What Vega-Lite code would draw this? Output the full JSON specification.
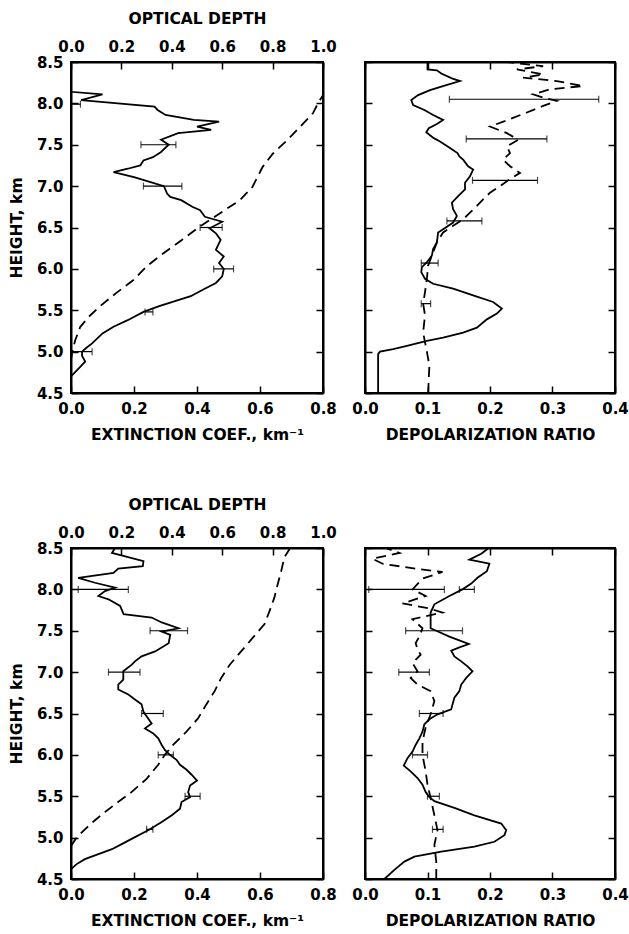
{
  "$schema": "https://vega.github.io/schema/vega-lite/v6.json",
  "padding": {"left": 8, "top": 10, "right": 4, "bottom": 4},
  "background": "white",
  "bounds": "flush",
  "spacing": 486,
  "config": {
    "view": {"stroke": "black", "strokeWidth": 2},
    "axis": {
      "domainColor": "black", "domainWidth": 2,
      "tickColor": "black", "tickWidth": 1.5, "tickSize": -7,
      "labelPadding": 15, "labelFont": "DejaVu Sans", "labelFontWeight": "bold", "labelFontSize": 15, "labelColor": "black",
      "titleFont": "DejaVu Sans", "titleFontWeight": "bold", "titleFontSize": 15.5, "titleColor": "black",
      "grid": false, "labelFlush": false, "labelOverlap": false
    },
    "line": {"color": "black", "strokeWidth": 1.8},
    "rule": {"color": "black", "strokeWidth": 1.2},
    "tick": {"color": "black", "thickness": 1.2}
  },
  "datasets": {
    "tl_ext": [
      {"h":4.50,"v":0.0},{"h":4.70,"v":0.0},{"h":4.82,"v":0.03},{"h":4.88,"v":0.045},{"h":4.95,"v":0.035},{"h":5.00,"v":0.035},{"h":5.05,"v":0.05},{"h":5.10,"v":0.067},{"h":5.22,"v":0.10},{"h":5.30,"v":0.135},{"h":5.38,"v":0.18},{"h":5.48,"v":0.23},{"h":5.55,"v":0.28},{"h":5.61,"v":0.33},{"h":5.67,"v":0.38},{"h":5.75,"v":0.42},{"h":5.83,"v":0.46},{"h":5.91,"v":0.48},{"h":6.00,"v":0.485},{"h":6.07,"v":0.47},{"h":6.15,"v":0.485},{"h":6.23,"v":0.46},{"h":6.35,"v":0.475},{"h":6.43,"v":0.46},{"h":6.49,"v":0.44},{"h":6.57,"v":0.48},{"h":6.63,"v":0.425},{"h":6.71,"v":0.41},{"h":6.75,"v":0.385},{"h":6.83,"v":0.35},{"h":6.87,"v":0.315},{"h":6.91,"v":0.305},{"h":7.00,"v":0.295},{"h":7.05,"v":0.25},{"h":7.11,"v":0.20},{"h":7.17,"v":0.135},{"h":7.21,"v":0.18},{"h":7.25,"v":0.22},{"h":7.31,"v":0.23},{"h":7.35,"v":0.26},{"h":7.41,"v":0.285},{"h":7.50,"v":0.31},{"h":7.56,"v":0.286},{"h":7.64,"v":0.34},{"h":7.68,"v":0.445},{"h":7.72,"v":0.40},{"h":7.78,"v":0.47},{"h":7.80,"v":0.39},{"h":7.86,"v":0.30},{"h":7.92,"v":0.275},{"h":7.96,"v":0.265},{"h":8.04,"v":0.032},{"h":8.11,"v":0.10},{"h":8.14,"v":0.0},{"h":8.50,"v":0.0}
    ],
    "tl_od": [
      {"h":4.90,"od":0.0},{"h":5.00,"od":0.005},{"h":5.14,"od":0.017},{"h":5.30,"od":0.037},{"h":5.42,"od":0.07},{"h":5.55,"od":0.116},{"h":5.71,"od":0.18},{"h":5.87,"od":0.25},{"h":6.03,"od":0.30},{"h":6.19,"od":0.367},{"h":6.35,"od":0.44},{"h":6.51,"od":0.51},{"h":6.67,"od":0.59},{"h":6.83,"od":0.67},{"h":6.99,"od":0.72},{"h":7.23,"od":0.76},{"h":7.39,"od":0.80},{"h":7.55,"od":0.856},{"h":7.72,"od":0.91},{"h":7.88,"od":0.96},{"h":8.00,"od":0.98},{"h":8.10,"od":1.0}
    ],
    "tl_err": [
      {"h":5.0,"lo":0.0,"hi":0.067},{"h":5.48,"lo":0.235,"hi":0.26},{"h":6.0,"lo":0.453,"hi":0.516},{"h":6.5,"lo":0.41,"hi":0.48},{"h":7.0,"lo":0.23,"hi":0.352},{"h":7.5,"lo":0.222,"hi":0.333},{"h":7.99,"lo":0.0,"hi":0.03}
    ],
    "tr_s": [
      {"h":4.50,"v":0.021},{"h":4.97,"v":0.021},{"h":5.00,"v":0.024},{"h":5.03,"v":0.045},{"h":5.07,"v":0.067},{"h":5.13,"v":0.099},{"h":5.17,"v":0.125},{"h":5.23,"v":0.157},{"h":5.29,"v":0.179},{"h":5.39,"v":0.195},{"h":5.46,"v":0.211},{"h":5.52,"v":0.219},{"h":5.60,"v":0.205},{"h":5.68,"v":0.173},{"h":5.76,"v":0.141},{"h":5.82,"v":0.109},{"h":5.88,"v":0.096},{"h":5.96,"v":0.090},{"h":6.02,"v":0.091},{"h":6.08,"v":0.099},{"h":6.16,"v":0.107},{"h":6.24,"v":0.109},{"h":6.32,"v":0.115},{"h":6.44,"v":0.117},{"h":6.48,"v":0.125},{"h":6.56,"v":0.141},{"h":6.64,"v":0.147},{"h":6.72,"v":0.141},{"h":6.80,"v":0.139},{"h":6.88,"v":0.149},{"h":6.96,"v":0.16},{"h":7.04,"v":0.16},{"h":7.12,"v":0.168},{"h":7.20,"v":0.173},{"h":7.24,"v":0.165},{"h":7.32,"v":0.157},{"h":7.36,"v":0.151},{"h":7.40,"v":0.148},{"h":7.46,"v":0.136},{"h":7.54,"v":0.12},{"h":7.58,"v":0.11},{"h":7.65,"v":0.098},{"h":7.70,"v":0.102},{"h":7.75,"v":0.115},{"h":7.80,"v":0.125},{"h":7.86,"v":0.109},{"h":7.92,"v":0.095},{"h":7.98,"v":0.077},{"h":8.04,"v":0.074},{"h":8.10,"v":0.085},{"h":8.16,"v":0.104},{"h":8.22,"v":0.13},{"h":8.27,"v":0.152},{"h":8.30,"v":0.14},{"h":8.36,"v":0.122},{"h":8.40,"v":0.115},{"h":8.41,"v":0.100},{"h":8.50,"v":0.100}
    ],
    "tr_d": [
      {"h":4.50,"v":0.101},{"h":4.83,"v":0.103},{"h":5.00,"v":0.099},{"h":5.23,"v":0.093},{"h":5.44,"v":0.096},{"h":5.58,"v":0.093},{"h":5.72,"v":0.096},{"h":5.88,"v":0.099},{"h":6.04,"v":0.101},{"h":6.16,"v":0.107},{"h":6.32,"v":0.115},{"h":6.44,"v":0.125},{"h":6.52,"v":0.141},{"h":6.60,"v":0.157},{"h":6.68,"v":0.168},{"h":6.76,"v":0.179},{"h":6.84,"v":0.189},{"h":6.92,"v":0.20},{"h":7.00,"v":0.216},{"h":7.06,"v":0.227},{"h":7.16,"v":0.248},{"h":7.24,"v":0.232},{"h":7.32,"v":0.221},{"h":7.40,"v":0.232},{"h":7.48,"v":0.227},{"h":7.56,"v":0.245},{"h":7.64,"v":0.227},{"h":7.72,"v":0.20},{"h":7.81,"v":0.232},{"h":7.89,"v":0.259},{"h":7.97,"v":0.285},{"h":8.03,"v":0.307},{"h":8.07,"v":0.285},{"h":8.11,"v":0.269},{"h":8.17,"v":0.296},{"h":8.21,"v":0.349},{"h":8.27,"v":0.307},{"h":8.31,"v":0.253},{"h":8.35,"v":0.285},{"h":8.41,"v":0.243},{"h":8.45,"v":0.285},{"h":8.50,"v":0.227}
    ],
    "tr_err": [
      {"h":5.58,"lo":0.09,"hi":0.105},{"h":6.07,"lo":0.09,"hi":0.117},{"h":6.58,"lo":0.131,"hi":0.187},{"h":7.07,"lo":0.172,"hi":0.276},{"h":7.57,"lo":0.162,"hi":0.291},{"h":8.05,"lo":0.135,"hi":0.374}
    ],
    "bl_ext": [
      {"h":4.50,"v":0.0},{"h":4.62,"v":0.0},{"h":4.68,"v":0.018},{"h":4.74,"v":0.044},{"h":4.80,"v":0.087},{"h":4.86,"v":0.13},{"h":4.94,"v":0.17},{"h":5.00,"v":0.20},{"h":5.09,"v":0.245},{"h":5.19,"v":0.288},{"h":5.27,"v":0.32},{"h":5.35,"v":0.346},{"h":5.43,"v":0.351},{"h":5.49,"v":0.378},{"h":5.55,"v":0.372},{"h":5.63,"v":0.378},{"h":5.69,"v":0.40},{"h":5.76,"v":0.383},{"h":5.82,"v":0.367},{"h":5.88,"v":0.346},{"h":5.94,"v":0.335},{"h":6.00,"v":0.314},{"h":6.06,"v":0.298},{"h":6.12,"v":0.288},{"h":6.20,"v":0.277},{"h":6.26,"v":0.261},{"h":6.32,"v":0.235},{"h":6.38,"v":0.256},{"h":6.44,"v":0.245},{"h":6.52,"v":0.23},{"h":6.61,"v":0.224},{"h":6.67,"v":0.203},{"h":6.73,"v":0.182},{"h":6.79,"v":0.15},{"h":6.85,"v":0.15},{"h":6.91,"v":0.166},{"h":6.97,"v":0.166},{"h":7.01,"v":0.166},{"h":7.09,"v":0.193},{"h":7.13,"v":0.203},{"h":7.19,"v":0.224},{"h":7.25,"v":0.267},{"h":7.35,"v":0.31},{"h":7.45,"v":0.315},{"h":7.49,"v":0.288},{"h":7.53,"v":0.341},{"h":7.60,"v":0.288},{"h":7.66,"v":0.256},{"h":7.70,"v":0.167},{"h":7.80,"v":0.156},{"h":7.88,"v":0.119},{"h":7.92,"v":0.087},{"h":7.98,"v":0.108},{"h":8.02,"v":0.14},{"h":8.08,"v":0.076},{"h":8.14,"v":0.023},{"h":8.20,"v":0.135},{"h":8.25,"v":0.15},{"h":8.28,"v":0.228},{"h":8.34,"v":0.23},{"h":8.44,"v":0.13},{"h":8.50,"v":0.14}
    ],
    "bl_od": [
      {"h":4.90,"od":0.0},{"h":5.00,"od":0.022},{"h":5.10,"od":0.055},{"h":5.21,"od":0.095},{"h":5.31,"od":0.135},{"h":5.43,"od":0.187},{"h":5.55,"od":0.24},{"h":5.71,"od":0.30},{"h":5.88,"od":0.346},{"h":6.00,"od":0.372},{"h":6.12,"od":0.405},{"h":6.28,"od":0.458},{"h":6.44,"od":0.504},{"h":6.61,"od":0.537},{"h":6.77,"od":0.57},{"h":6.93,"od":0.596},{"h":7.09,"od":0.63},{"h":7.25,"od":0.675},{"h":7.41,"od":0.72},{"h":7.58,"od":0.768},{"h":7.74,"od":0.788},{"h":7.90,"od":0.807},{"h":8.06,"od":0.82},{"h":8.22,"od":0.834},{"h":8.39,"od":0.847},{"h":8.50,"od":0.87}
    ],
    "bl_err": [
      {"h":5.1,"lo":0.24,"hi":0.26},{"h":5.5,"lo":0.362,"hi":0.41},{"h":6.0,"lo":0.277,"hi":0.325},{"h":6.5,"lo":0.224,"hi":0.293},{"h":7.0,"lo":0.119,"hi":0.219},{"h":7.5,"lo":0.251,"hi":0.37},{"h":8.0,"lo":0.023,"hi":0.182}
    ],
    "br_s": [
      {"h":4.50,"v":0.031},{"h":4.61,"v":0.047},{"h":4.71,"v":0.063},{"h":4.77,"v":0.079},{"h":4.83,"v":0.122},{"h":4.89,"v":0.175},{"h":4.95,"v":0.207},{"h":5.03,"v":0.223},{"h":5.09,"v":0.226},{"h":5.17,"v":0.218},{"h":5.27,"v":0.175},{"h":5.36,"v":0.143},{"h":5.44,"v":0.111},{"h":5.49,"v":0.103},{"h":5.55,"v":0.097},{"h":5.64,"v":0.092},{"h":5.72,"v":0.084},{"h":5.80,"v":0.073},{"h":5.87,"v":0.062},{"h":5.96,"v":0.068},{"h":6.04,"v":0.076},{"h":6.12,"v":0.081},{"h":6.20,"v":0.087},{"h":6.28,"v":0.092},{"h":6.37,"v":0.095},{"h":6.43,"v":0.103},{"h":6.49,"v":0.116},{"h":6.55,"v":0.138},{"h":6.61,"v":0.14},{"h":6.69,"v":0.143},{"h":6.77,"v":0.151},{"h":6.85,"v":0.154},{"h":6.93,"v":0.162},{"h":7.01,"v":0.172},{"h":7.07,"v":0.164},{"h":7.13,"v":0.154},{"h":7.19,"v":0.143},{"h":7.26,"v":0.138},{"h":7.30,"v":0.151},{"h":7.34,"v":0.166},{"h":7.43,"v":0.135},{"h":7.53,"v":0.105},{"h":7.62,"v":0.105},{"h":7.72,"v":0.105},{"h":7.82,"v":0.111},{"h":7.92,"v":0.135},{"h":8.00,"v":0.156},{"h":8.07,"v":0.17},{"h":8.14,"v":0.18},{"h":8.22,"v":0.195},{"h":8.31,"v":0.199},{"h":8.36,"v":0.167},{"h":8.43,"v":0.186},{"h":8.50,"v":0.198}
    ],
    "br_d": [
      {"h":4.50,"v":0.114},{"h":4.71,"v":0.114},{"h":4.91,"v":0.111},{"h":5.09,"v":0.116},{"h":5.27,"v":0.111},{"h":5.48,"v":0.105},{"h":5.64,"v":0.10},{"h":5.80,"v":0.097},{"h":6.00,"v":0.092},{"h":6.16,"v":0.092},{"h":6.33,"v":0.097},{"h":6.49,"v":0.105},{"h":6.65,"v":0.111},{"h":6.77,"v":0.105},{"h":6.85,"v":0.084},{"h":6.93,"v":0.073},{"h":7.01,"v":0.084},{"h":7.11,"v":0.076},{"h":7.21,"v":0.089},{"h":7.28,"v":0.084},{"h":7.35,"v":0.081},{"h":7.43,"v":0.087},{"h":7.53,"v":0.092},{"h":7.64,"v":0.076},{"h":7.72,"v":0.124},{"h":7.77,"v":0.103},{"h":7.83,"v":0.06},{"h":7.92,"v":0.097},{"h":8.00,"v":0.076},{"h":8.13,"v":0.092},{"h":8.21,"v":0.124},{"h":8.25,"v":0.081},{"h":8.31,"v":0.028},{"h":8.37,"v":0.012},{"h":8.44,"v":0.055},{"h":8.50,"v":0.033}
    ],
    "br_err": [
      {"h":5.1,"lo":0.108,"hi":0.125},{"h":5.5,"lo":0.1,"hi":0.119},{"h":6.0,"lo":0.076,"hi":0.1},{"h":6.5,"lo":0.087,"hi":0.125},{"h":7.0,"lo":0.054,"hi":0.103},{"h":7.5,"lo":0.065,"hi":0.156},{"h":8.0,"lo":0.006,"hi":0.127},{"h":8.0,"lo":0.151,"hi":0.175}
    ]
  },
  "vconcat": [
    {
      "bounds": "flush",
      "spacing": 42,
      "hconcat": [
        {
          "width": 252, "height": 331,
          "layer": [
            {"layer": [
              {"data": {"name": "tl_ext"}, "mark": {"type": "line"},
               "encoding": {
                 "x": {"field": "v", "type": "quantitative", "scale": {"domain": [0, 0.8]}, "axis": {"title": "EXTINCTION COEF., km⁻¹", "values": [0, 0.2, 0.4, 0.6, 0.8], "format": ".1f", "titlePadding": 11}},
                 "y": {"field": "h", "type": "quantitative", "scale": {"domain": [4.5, 8.5]}, "axis": {"title": "HEIGHT, km", "values": [4.5, 5, 5.5, 6, 6.5, 7, 7.5, 8, 8.5], "format": ".1f", "titlePadding": 12}},
                 "order": {"field": "h", "type": "quantitative"}}},
              {"data": {"name": "tl_err"}, "mark": {"type": "rule"},
               "encoding": {"x": {"field": "lo", "type": "quantitative"}, "x2": {"field": "hi"}, "y": {"field": "h", "type": "quantitative"}}},
              {"data": {"name": "tl_err"}, "mark": {"type": "tick", "orient": "vertical", "size": 7},
               "encoding": {"x": {"field": "lo", "type": "quantitative"}, "y": {"field": "h", "type": "quantitative"}}},
              {"data": {"name": "tl_err"}, "mark": {"type": "tick", "orient": "vertical", "size": 7},
               "encoding": {"x": {"field": "hi", "type": "quantitative"}, "y": {"field": "h", "type": "quantitative"}}}
            ]},
            {"data": {"name": "tl_od"}, "mark": {"type": "line", "strokeDash": [10, 6]},
             "encoding": {
               "x": {"field": "od", "type": "quantitative", "scale": {"domain": [0, 1]}, "axis": {"orient": "top", "title": "OPTICAL DEPTH", "values": [0, 0.2, 0.4, 0.6, 0.8, 1.0], "format": ".1f", "titlePadding": 13}},
               "y": {"field": "h", "type": "quantitative", "scale": {"domain": [4.5, 8.5]}, "axis": {"orient": "right", "labels": false, "title": null, "values": [4.5, 5, 5.5, 6, 6.5, 7, 7.5, 8, 8.5]}},
               "order": {"field": "h", "type": "quantitative"}}}
          ],
          "resolve": {"scale": {"x": "independent", "y": "independent"}}
        },
        {
          "width": 250, "height": 331,
          "layer": [
            {"layer": [
              {"data": {"name": "tr_s"}, "mark": {"type": "line"},
               "encoding": {
                 "x": {"field": "v", "type": "quantitative", "scale": {"domain": [0, 0.4]}, "axis": {"title": "DEPOLARIZATION RATIO", "values": [0, 0.1, 0.2, 0.3, 0.4], "format": ".1f", "titlePadding": 11}},
                 "y": {"field": "h", "type": "quantitative", "scale": {"domain": [4.5, 8.5]}, "axis": {"labels": false, "title": null, "values": [4.5, 5, 5.5, 6, 6.5, 7, 7.5, 8, 8.5]}},
                 "order": {"field": "h", "type": "quantitative"}}},
              {"data": {"name": "tr_err"}, "mark": {"type": "rule"},
               "encoding": {"x": {"field": "lo", "type": "quantitative"}, "x2": {"field": "hi"}, "y": {"field": "h", "type": "quantitative"}}},
              {"data": {"name": "tr_err"}, "mark": {"type": "tick", "orient": "vertical", "size": 7},
               "encoding": {"x": {"field": "lo", "type": "quantitative"}, "y": {"field": "h", "type": "quantitative"}}},
              {"data": {"name": "tr_err"}, "mark": {"type": "tick", "orient": "vertical", "size": 7},
               "encoding": {"x": {"field": "hi", "type": "quantitative"}, "y": {"field": "h", "type": "quantitative"}}}
            ]},
            {"data": {"name": "tr_d"}, "mark": {"type": "line", "strokeDash": [10, 6]},
             "encoding": {
               "x": {"field": "v", "type": "quantitative", "scale": {"domain": [0, 0.4]}, "axis": {"orient": "top", "labels": false, "title": null, "values": [0, 0.1, 0.2, 0.3, 0.4]}},
               "y": {"field": "h", "type": "quantitative", "scale": {"domain": [4.5, 8.5]}, "axis": {"orient": "right", "labels": false, "title": null, "values": [4.5, 5, 5.5, 6, 6.5, 7, 7.5, 8, 8.5]}},
               "order": {"field": "h", "type": "quantitative"}}}
          ],
          "resolve": {"scale": {"x": "independent", "y": "independent"}}
        }
      ]
    },
    {
      "bounds": "flush",
      "spacing": 42,
      "hconcat": [
        {
          "width": 252, "height": 331,
          "layer": [
            {"layer": [
              {"data": {"name": "bl_ext"}, "mark": {"type": "line"},
               "encoding": {
                 "x": {"field": "v", "type": "quantitative", "scale": {"domain": [0, 0.8]}, "axis": {"title": "EXTINCTION COEF., km⁻¹", "values": [0, 0.2, 0.4, 0.6, 0.8], "format": ".1f", "titlePadding": 11}},
                 "y": {"field": "h", "type": "quantitative", "scale": {"domain": [4.5, 8.5]}, "axis": {"title": "HEIGHT, km", "values": [4.5, 5, 5.5, 6, 6.5, 7, 7.5, 8, 8.5], "format": ".1f", "titlePadding": 12}},
                 "order": {"field": "h", "type": "quantitative"}}},
              {"data": {"name": "bl_err"}, "mark": {"type": "rule"},
               "encoding": {"x": {"field": "lo", "type": "quantitative"}, "x2": {"field": "hi"}, "y": {"field": "h", "type": "quantitative"}}},
              {"data": {"name": "bl_err"}, "mark": {"type": "tick", "orient": "vertical", "size": 7},
               "encoding": {"x": {"field": "lo", "type": "quantitative"}, "y": {"field": "h", "type": "quantitative"}}},
              {"data": {"name": "bl_err"}, "mark": {"type": "tick", "orient": "vertical", "size": 7},
               "encoding": {"x": {"field": "hi", "type": "quantitative"}, "y": {"field": "h", "type": "quantitative"}}}
            ]},
            {"data": {"name": "bl_od"}, "mark": {"type": "line", "strokeDash": [10, 6]},
             "encoding": {
               "x": {"field": "od", "type": "quantitative", "scale": {"domain": [0, 1]}, "axis": {"orient": "top", "title": "OPTICAL DEPTH", "values": [0, 0.2, 0.4, 0.6, 0.8, 1.0], "format": ".1f", "titlePadding": 13}},
               "y": {"field": "h", "type": "quantitative", "scale": {"domain": [4.5, 8.5]}, "axis": {"orient": "right", "labels": false, "title": null, "values": [4.5, 5, 5.5, 6, 6.5, 7, 7.5, 8, 8.5]}},
               "order": {"field": "h", "type": "quantitative"}}}
          ],
          "resolve": {"scale": {"x": "independent", "y": "independent"}}
        },
        {
          "width": 250, "height": 331,
          "layer": [
            {"layer": [
              {"data": {"name": "br_s"}, "mark": {"type": "line"},
               "encoding": {
                 "x": {"field": "v", "type": "quantitative", "scale": {"domain": [0, 0.4]}, "axis": {"title": "DEPOLARIZATION RATIO", "values": [0, 0.1, 0.2, 0.3, 0.4], "format": ".1f", "titlePadding": 11}},
                 "y": {"field": "h", "type": "quantitative", "scale": {"domain": [4.5, 8.5]}, "axis": {"labels": false, "title": null, "values": [4.5, 5, 5.5, 6, 6.5, 7, 7.5, 8, 8.5]}},
                 "order": {"field": "h", "type": "quantitative"}}},
              {"data": {"name": "br_err"}, "mark": {"type": "rule"},
               "encoding": {"x": {"field": "lo", "type": "quantitative"}, "x2": {"field": "hi"}, "y": {"field": "h", "type": "quantitative"}}},
              {"data": {"name": "br_err"}, "mark": {"type": "tick", "orient": "vertical", "size": 7},
               "encoding": {"x": {"field": "lo", "type": "quantitative"}, "y": {"field": "h", "type": "quantitative"}}},
              {"data": {"name": "br_err"}, "mark": {"type": "tick", "orient": "vertical", "size": 7},
               "encoding": {"x": {"field": "hi", "type": "quantitative"}, "y": {"field": "h", "type": "quantitative"}}}
            ]},
            {"data": {"name": "br_d"}, "mark": {"type": "line", "strokeDash": [10, 6]},
             "encoding": {
               "x": {"field": "v", "type": "quantitative", "scale": {"domain": [0, 0.4]}, "axis": {"orient": "top", "labels": false, "title": null, "values": [0, 0.1, 0.2, 0.3, 0.4]}},
               "y": {"field": "h", "type": "quantitative", "scale": {"domain": [4.5, 8.5]}, "axis": {"orient": "right", "labels": false, "title": null, "values": [4.5, 5, 5.5, 6, 6.5, 7, 7.5, 8, 8.5]}},
               "order": {"field": "h", "type": "quantitative"}}}
          ],
          "resolve": {"scale": {"x": "independent", "y": "independent"}}
        }
      ]
    }
  ]
}
